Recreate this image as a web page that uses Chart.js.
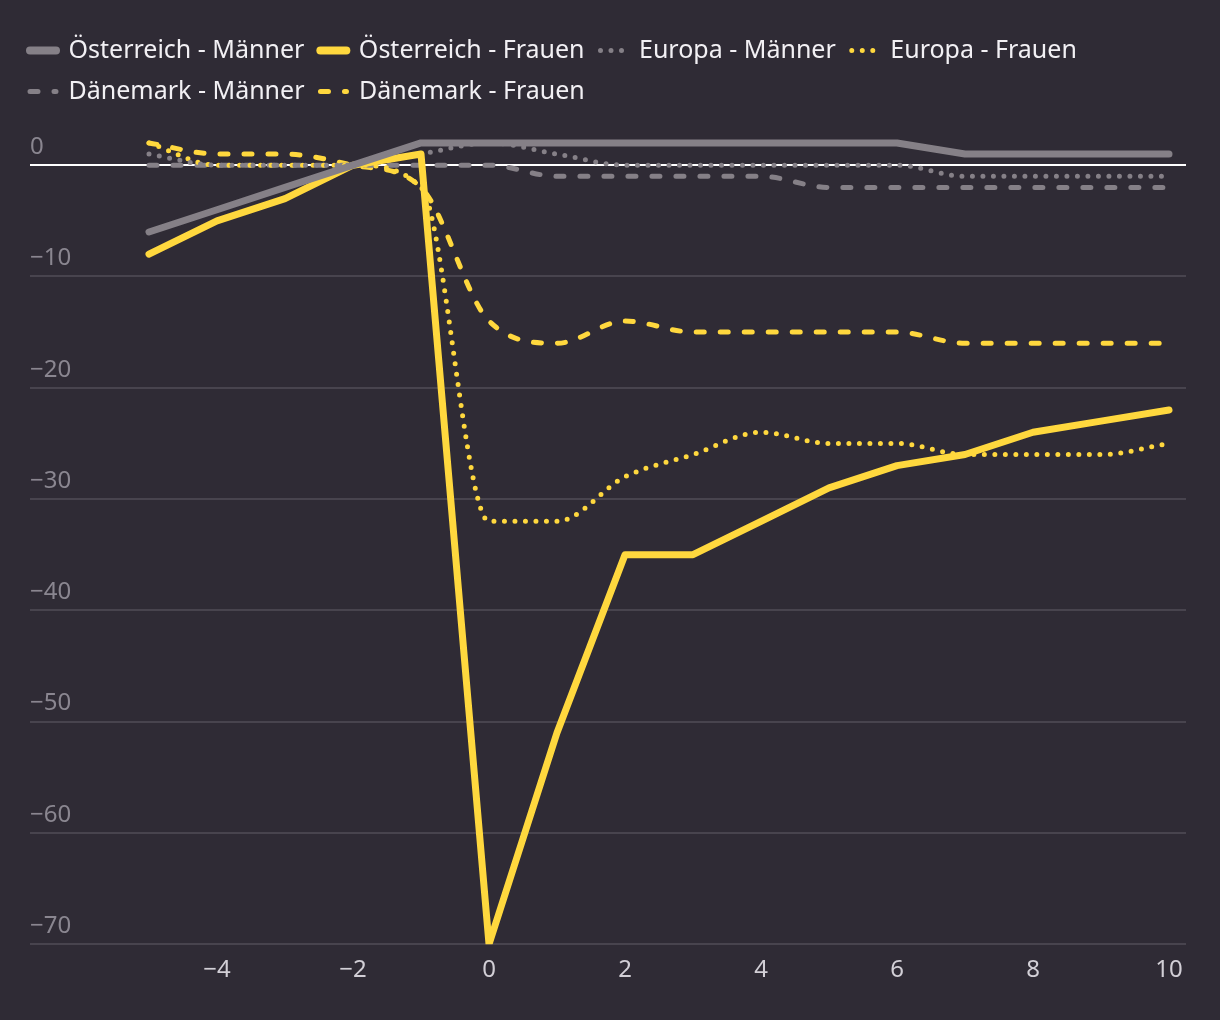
<!DOCTYPE html>
<html lang="de">
<head>
<meta charset="utf-8">
<script src="https://cdn.jsdelivr.net/npm/chart.js@4"></script>
<style>
  html, body { margin: 0; background: #2f2b35; }
  #chartContainer { width: 1220px; height: 1020px; position: relative; }
</style>
</head>
<body>
<div id="chartContainer"><canvas id="lineChart"></canvas></div>
<script>
// years relative to event
const years = [-5, -4, -3, -2, -1, 0, 1, 2, 3, 4, 5, 6, 7, 8, 9, 10];
const xTicks = [-4, -2, 0, 2, 4, 6, 8, 10];

const oesterreichMaenner = [-6, -4, -2, 0, 2, 2, 2, 2, 2, 2, 2, 2, 1, 1, 1, 1];
const oesterreichFrauen = [-8, -5, -3, 0, 1, -70, -51, -35, -35, -32, -29, -27, -26, -24, -23, -22];
const europaMaenner = [1, 0, 0, 0, 1, 2, 1, 0, 0, 0, 0, 0, -1, -1, -1, -1];
const europaFrauen = [2, 0, 0, 0, -2, -32, -32, -28, -26, -24, -25, -25, -26, -26, -26, -25];
const daenemarkMaenner = [0, 0, 0, 0, 0, 0, -1, -1, -1, -1, -2, -2, -2, -2, -2, -2];
const daenemarkFrauen = [2, 1, 1, 0, -2, -14, -16, -14, -15, -15, -15, -15, -16, -16, -16, -16];

const GREY = "#858087";
const YELLOW = "#ffd83e";
const FONT = "'Noto Sans', 'Open Sans', sans-serif";

const toPoints = arr => years.map((x, i) => ({ x, y: arr[i] }));
const fmt = v => String(v).replace("-", "\u2212");

function series(label, arr, color, kind) {
  const ds = {
    label,
    data: toPoints(arr),
    borderColor: color,
    backgroundColor: color,
    pointRadius: 0,
    pointHoverRadius: 0,
    borderCapStyle: "round",
    borderJoinStyle: "round",
    borderWidth: 7,
    tension: 0
  };
  if (kind === "dot") {
    ds.borderWidth = 5;
    ds.borderDash = [0, 10.5];
    ds.cubicInterpolationMode = "monotone";
  } else if (kind === "dash") {
    ds.borderWidth = 5;
    ds.borderDash = [8, 16];
    ds.cubicInterpolationMode = "monotone";
  }
  return ds;
}

// legend samples keep the dash pattern and round caps of each line
function legendItems(chart) {
  return chart.data.datasets.map((ds, i) => ({
    text: ds.label,
    fillStyle: ds.borderColor,
    strokeStyle: ds.borderColor,
    fontColor: "#f2f0f4",
    lineWidth: ds.borderDash ? ds.borderWidth : 8,
    lineDash: ds.borderDash || [],
    lineCap: "round",
    pointStyle: "line",
    hidden: !chart.isDatasetVisible(i),
    datasetIndex: i
  }));
}

const ctx = document.getElementById("lineChart").getContext("2d");

new Chart(ctx, {
  type: "line",
  data: {
    datasets: [
      series("Österreich - Männer", oesterreichMaenner, GREY, "solid"),
      series("Österreich - Frauen", oesterreichFrauen, YELLOW, "solid"),
      series("Europa - Männer", europaMaenner, GREY, "dot"),
      series("Europa - Frauen", europaFrauen, YELLOW, "dot"),
      series("Dänemark - Männer", daenemarkMaenner, GREY, "dash"),
      series("Dänemark - Frauen", daenemarkFrauen, YELLOW, "dash")
    ]
  },
  options: {
    responsive: true,
    maintainAspectRatio: false,
    animation: false,
    layout: { padding: { left: 14, right: 34, top: 22, bottom: 23 } },
    plugins: {
      tooltip: { enabled: false },
      legend: {
        position: "top",
        align: "start",
        labels: {
          color: "#f2f0f4",
          font: { family: FONT, size: 25 },
          usePointStyle: true,
          pointStyle: "line",
          pointStyleWidth: 26,
          padding: 16,
          generateLabels: legendItems
        }
      }
    },
    scales: {
      x: {
        type: "linear",
        min: -6.75,
        max: 10.25,
        afterBuildTicks: axis => {
          axis.ticks = xTicks.map(v => ({ value: v }));
        },
        grid: { display: false, drawTicks: false },
        border: { display: false },
        ticks: {
          color: "#d2cfd6",
          font: { family: FONT, size: 24 },
          padding: 12,
          callback: v => fmt(v)
        }
      },
      y: {
        min: -70,
        max: 4.6,
        grid: {
          color: c => (c.tick && c.tick.value === 0 ? "#ffffff" : "#48444e"),
          lineWidth: 2,
          drawTicks: true,
          tickLength: 16,
          tickColor: "transparent"
        },
        border: { display: false },
        ticks: {
          stepSize: 10,
          includeBounds: false,
          mirror: true,
          padding: 0,
          labelOffset: -18,
          color: "#8a8690",
          font: { family: FONT, size: 24 },
          callback: v => fmt(v)
        }
      }
    }
  }
});
</script>
</body>
</html>
